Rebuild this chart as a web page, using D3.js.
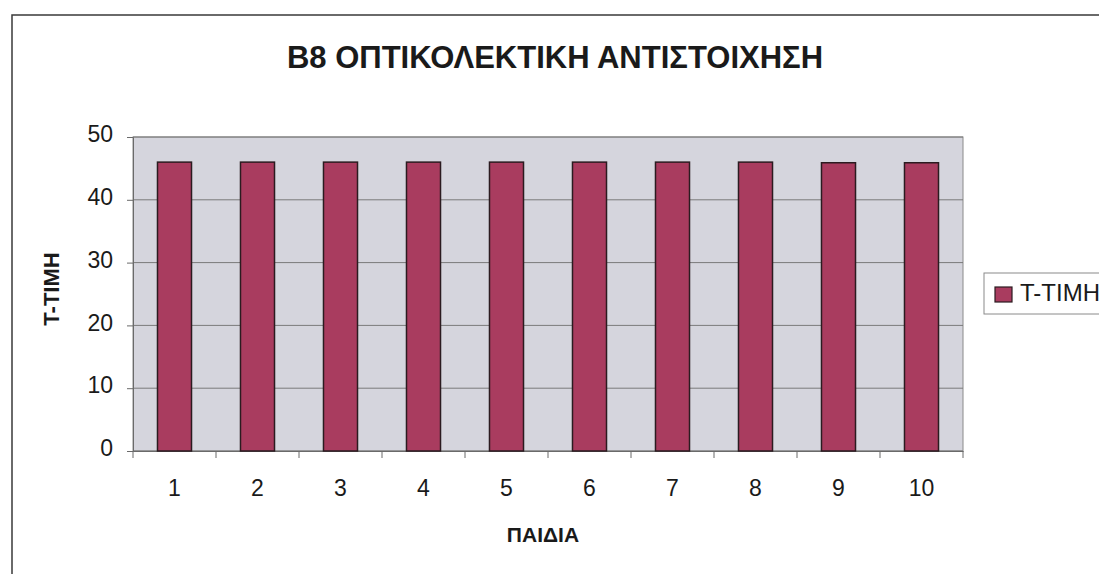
<!DOCTYPE html>
<html>
    <head>
        <meta charset="utf-8">
        <title>B8</title>
        <script type="text/javascript" src="https://cdn.jsdelivr.net/npm/d3@7"></script>
        <style>
            body { margin: 0; background: #fff; }
            text { font-family: 'Liberation Sans', Arial, sans-serif; fill: #1a1a1a; }
        </style>
    </head>
    <body>
        <div class="chart"></div>
        <script type="text/javascript">
            let categories = ['1', '2', '3', '4', '5', '6', '7', '8', '9', '10'];
            let values = [46, 46, 46, 46, 46, 46, 46, 46, 45.9, 45.9];
            let yTicks = [0, 10, 20, 30, 40, 50];
            let seriesName = 'T-TIMH';

            let width = 1099;
            let height = 574;
            let plot = { left: 133, right: 963, top: 137, bottom: 451 };

            let svg = d3.select('.chart')
                .append('svg')
                    .attr('width', width)
                    .attr('height', height);

            // outer frame, cut off at right and bottom like the scan
            svg.append('rect')
                .attr('x', 12).attr('y', 15)
                .attr('width', 1200).attr('height', 700)
                .attr('fill', 'none')
                .attr('stroke', '#3a3a3a')
                .attr('stroke-width', 1.5);

            let x = d3.scaleBand()
                .domain(categories)
                .range([plot.left, plot.right])
                .paddingInner(0.59)
                .paddingOuter(0.295);

            let y = d3.scaleLinear()
                .domain([0, 50])
                .range([plot.bottom, plot.top]);

            svg.append('rect')
                .attr('x', plot.left).attr('y', plot.top)
                .attr('width', plot.right - plot.left)
                .attr('height', plot.bottom - plot.top)
                .attr('fill', '#d5d5dd')
                .attr('stroke', '#8a8a8a');

            svg.append('g')
                .selectAll('line')
                .data(yTicks)
                .enter()
                .append('line')
                    .attr('x1', plot.left).attr('x2', plot.right)
                    .attr('y1', d => y(d)).attr('y2', d => y(d))
                    .attr('stroke', '#7a7a7a');

            let yAxis = svg.append('g')
                .attr('transform', `translate(${plot.left},0)`)
                .call(d3.axisLeft(y).tickValues(yTicks).tickSize(6).tickPadding(14));
            yAxis.select('.domain').attr('stroke', '#6a6a6a');
            yAxis.selectAll('line').attr('stroke', '#6a6a6a');
            yAxis.selectAll('text').style('font-size', '23px').attr('fill', '#1a1a1a').attr('dy', '0.2em');

            let xAxis = svg.append('g')
                .attr('transform', `translate(0,${plot.bottom})`)
                .call(d3.axisBottom(x).tickSize(0).tickPadding(29));
            xAxis.select('.domain').attr('stroke', '#6a6a6a');
            xAxis.selectAll('text').style('font-size', '23px').attr('fill', '#1a1a1a');

            // tick marks between categories
            let step = x.step();
            xAxis.selectAll('.sep')
                .data(d3.range(categories.length + 1))
                .enter()
                .append('line')
                    .attr('x1', i => plot.left + i * step)
                    .attr('x2', i => plot.left + i * step)
                    .attr('y1', 0).attr('y2', 7)
                    .attr('stroke', '#6a6a6a');

            svg.append('g')
                .selectAll('rect')
                .data(values)
                .enter()
                .append('rect')
                    .attr('x', (d, i) => x(categories[i]))
                    .attr('y', d => y(d))
                    .attr('width', x.bandwidth())
                    .attr('height', d => y(0) - y(d))
                    .attr('fill', '#a93c5f')
                    .attr('stroke', '#2b1b20')
                    .attr('stroke-width', 1.5);

            svg.append('text')
                .attr('x', 555).attr('y', 68)
                .attr('text-anchor', 'middle')
                .style('font-size', '31px')
                .style('font-weight', 'bold')
                .text('B8 ΟΠΤΙΚΟΛΕΚΤΙΚΗ ΑΝΤΙΣΤΟΙΧΗΣΗ');

            svg.append('text')
                .attr('x', 543).attr('y', 542)
                .attr('text-anchor', 'middle')
                .style('font-size', '21px')
                .style('font-weight', 'bold')
                .text('ΠΑΙΔΙΑ');

            svg.append('text')
                .attr('transform', 'translate(59,289) rotate(-90)')
                .attr('text-anchor', 'middle')
                .style('font-size', '22px')
                .style('font-weight', 'bold')
                .text(seriesName);

            let legend = svg.append('g');
            legend.append('rect')
                .attr('x', 984).attr('y', 273)
                .attr('width', 200).attr('height', 41)
                .attr('fill', '#fff')
                .attr('stroke', '#8a8a8a');
            legend.append('rect')
                .attr('x', 995).attr('y', 287)
                .attr('width', 17).attr('height', 15)
                .attr('fill', '#a93c5f')
                .attr('stroke', '#2b1b20')
                .attr('stroke-width', 1.2);
            legend.append('text')
                .attr('x', 1020).attr('y', 301)
                .style('font-size', '24px')
                .text(seriesName);
        </script>
    </body>
</html>
